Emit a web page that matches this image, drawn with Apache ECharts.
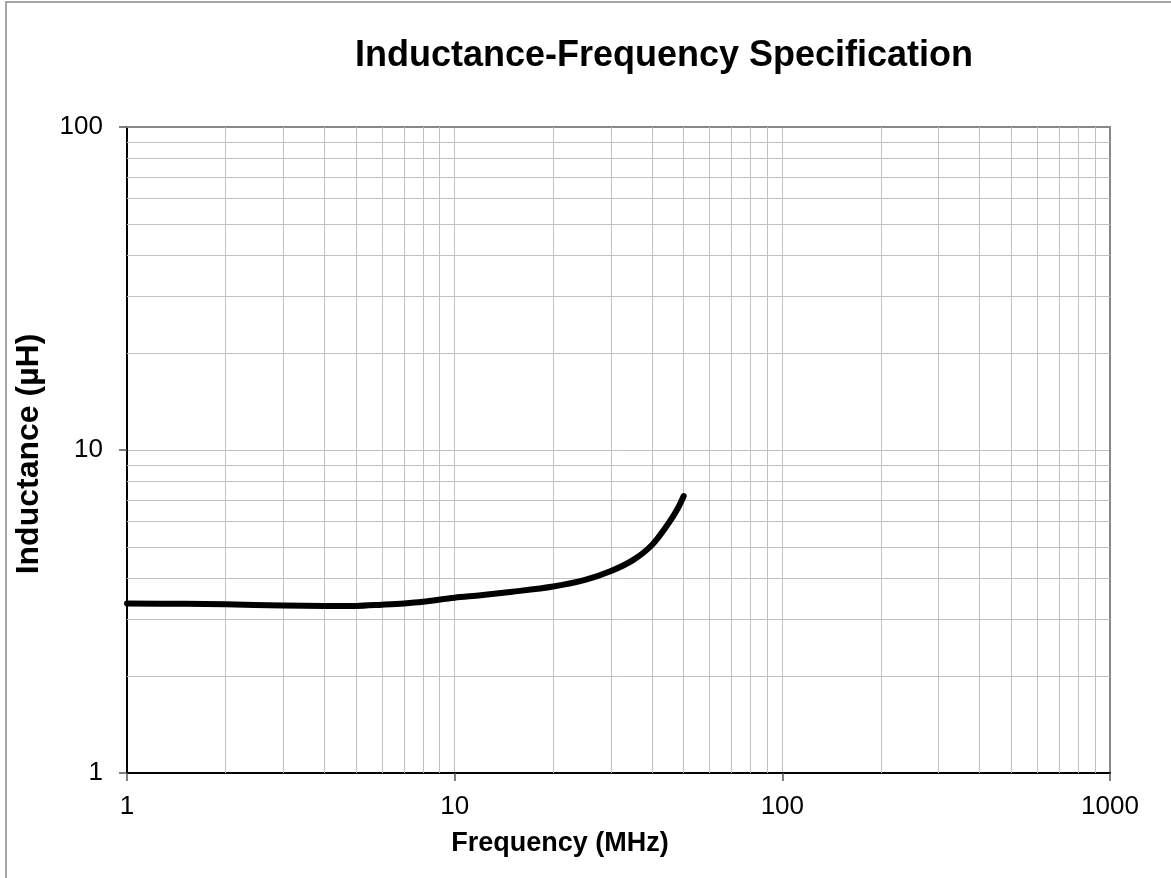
<!DOCTYPE html>
<html>
<head>
<meta charset="utf-8">
<script src="https://cdn.jsdelivr.net/npm/echarts@6/dist/echarts.min.js"></script>
<style>
html,body{margin:0;padding:0;background:#fff;}
#chart{width:1171px;height:878px;}
</style>
</head>
<body>
<div id="chart"></div>
<script>
// Data
const frequencyMHz = [1, 1.5, 2, 3, 4, 5, 6, 7, 8, 10, 12, 15, 20, 25, 30, 35, 40, 45, 48, 50];
const inductanceUH = [3.35, 3.34, 3.33, 3.30, 3.29, 3.29, 3.32, 3.35, 3.39, 3.49, 3.55, 3.64, 3.78, 3.96, 4.22, 4.56, 5.08, 5.94, 6.6, 7.2];
const xMinorGrid = [2, 3, 4, 5, 6, 7, 8, 9, 20, 30, 40, 50, 60, 70, 80, 90, 200, 300, 400, 500, 600, 700, 800, 900];
const yMinorGrid = [2, 3, 4, 5, 6, 7, 8, 9, 20, 30, 40, 50, 60, 70, 80, 90];
const titleText = 'Inductance-Frequency Specification';
const xTitle = 'Frequency (MHz)';
const yTitle = 'Inductance (µH)';

const FONT = '"Liberation Sans", Arial, Helvetica, sans-serif';
const GRID = '#c0c0c0';

const chart = echarts.init(document.getElementById('chart'), null, {renderer: 'canvas'});

const seriesData = frequencyMHz.map((f, i) => [f, inductanceUH[i]]);
const gridLines = xMinorGrid.map(v => ({xAxis: v})).concat(yMinorGrid.map(v => ({yAxis: v})));

chart.setOption({
  animation: false,
  backgroundColor: '#fff',
  grid: {left: 127, top: 127, width: 983, height: 646, containLabel: false},
  xAxis: [{
    type: 'log', logBase: 10, min: 1, max: 1000, splitNumber: 3,
    position: 'bottom',
    axisLine: {show: true, lineStyle: {color: '#000', width: 2}},
    axisTick: {show: true, length: 8, lineStyle: {color: '#555', width: 1.5}},
    axisLabel: {color: '#000', fontSize: 26, fontFamily: FONT, margin: 21,
      formatter: v => String(Math.round(v))},
    splitLine: {show: true, lineStyle: {color: GRID, width: 1}}
  }, {
    type: 'log', logBase: 10, min: 1, max: 1000, splitNumber: 3,
    position: 'top',
    axisLine: {show: true, lineStyle: {color: '#888', width: 2}},
    axisTick: {show: false}, axisLabel: {show: false}, splitLine: {show: false}
  }],
  yAxis: [{
    type: 'log', logBase: 10, min: 1, max: 100, splitNumber: 2,
    position: 'left',
    axisLine: {show: true, lineStyle: {color: '#000', width: 2}},
    axisTick: {show: true, length: 8, lineStyle: {color: '#555', width: 1.5}},
    axisLabel: {color: '#000', fontSize: 26, fontFamily: FONT, margin: 24,
      formatter: v => String(Math.round(v))},
    splitLine: {show: true, lineStyle: {color: GRID, width: 1}}
  }, {
    type: 'log', logBase: 10, min: 1, max: 100, splitNumber: 2,
    position: 'right',
    axisLine: {show: true, lineStyle: {color: '#888', width: 2}},
    axisTick: {show: false}, axisLabel: {show: false}, splitLine: {show: false}
  }],
  series: [{
    type: 'line',
    xAxisIndex: 0, yAxisIndex: 0,
    data: [],
    silent: true,
    z: 1,
    markLine: {
      silent: true, symbol: 'none', animation: false,
      label: {show: false},
      lineStyle: {color: GRID, width: 1, type: 'solid'},
      data: gridLines
    }
  }, {
    type: 'line',
    xAxisIndex: 0, yAxisIndex: 0,
    data: seriesData,
    smooth: 0.3,
    showSymbol: false,
    symbol: 'none',
    z: 5,
    lineStyle: {color: '#000', width: 6, cap: 'round', join: 'round'}
  }],
  graphic: [{
    type: 'rect', silent: true, z: -10,
    shape: {x: 6, y: 2, width: 1300, height: 1000},
    style: {fill: 'none', stroke: '#8a8a8a', lineWidth: 1.5}
  }, {
    type: 'text', x: 664, y: 56, silent: true,
    style: {text: titleText, font: 'bold 36px ' + FONT, fill: '#000',
      textAlign: 'center', textVerticalAlign: 'middle', align: 'center', verticalAlign: 'middle'}
  }, {
    type: 'text', x: 560, y: 844, silent: true,
    style: {text: xTitle, font: 'bold 27px ' + FONT, fill: '#000',
      textAlign: 'center', textVerticalAlign: 'middle', align: 'center', verticalAlign: 'middle'}
  }, {
    type: 'text', x: 29, y: 454, rotation: Math.PI / 2, silent: true,
    style: {text: yTitle, font: 'bold 32px ' + FONT, fill: '#000',
      textAlign: 'center', textVerticalAlign: 'middle', align: 'center', verticalAlign: 'middle'}
  }]
});
</script>
</body>
</html>
